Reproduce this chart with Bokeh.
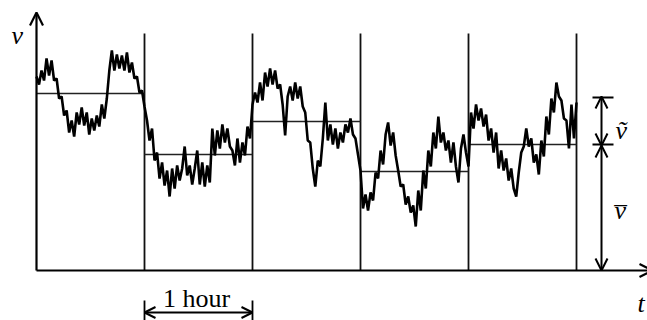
import numpy as np
from bokeh.plotting import figure
from bokeh.models import Arrow, OpenHead, Range1d
from bokeh.core.properties import value
from bokeh.embed import file_html
from bokeh.resources import INLINE

# ---- data (wind speed, arbitrary units) ----
hour1 = [194, 186, 200, 190, 212, 195, 210, 190, 192, 172, 174, 155, 160, 138, 150,
         134, 158, 146, 163, 145, 158, 136, 152, 140, 155, 144, 166, 152, 172, 200,
         220, 200, 216, 202, 215, 200, 218, 198, 208, 192, 194, 178, 180, 164]
hour2 = [150, 130, 142, 110, 118, 92, 108, 85, 100, 74, 102, 82, 105, 90, 102,
         124, 95, 105, 86, 102, 120, 86, 108, 84, 105, 88, 142, 115, 140, 122,
         146, 128, 142, 124, 120, 105, 132, 108, 128, 115, 144, 132, 166]
hour3 = [178, 168, 188, 170, 198, 184, 202, 186, 200, 182, 186, 166, 135, 174, 184,
         170, 188, 172, 184, 164, 158, 130, 128, 102, 84, 110, 104, 132, 168, 130,
         146, 126, 142, 122, 138, 128, 146, 138, 152, 136, 132, 116, 100]
hour4 = [62, 76, 60, 78, 70, 98, 92, 120, 106, 136, 148, 125, 138, 115, 100,
         84, 86, 66, 74, 58, 65, 44, 80, 60, 100, 82, 120, 104, 138, 122,
         154, 128, 138, 120, 130, 108, 128, 104, 88, 122, 136, 118, 104]
hour5 = [158, 142, 166, 150, 162, 144, 156, 130, 142, 118, 138, 102, 120, 100, 112,
         90, 102, 82, 74, 98, 118, 124, 142, 124, 132, 108, 116, 96, 130, 114,
         154, 136, 172, 158, 188, 174, 170, 152, 150, 122, 166, 132, 168]

hour_starts = [0, 1, 2, 3, 4]
hour_ends = [1, 2, 3, 4, 5]
hour_means = [177, 116, 149, 99, 126]
fluct_top = 173      # upper level of the fluctuation marker
ref_mean = 126       # mean of the last hour (v-bar)

speed = hour1 + hour2 + hour3 + hour4 + hour5
t = np.linspace(0, 5, len(speed))

# ---- layout ----
W, H = 647, 320
PX = 108.0   # pixels per hour
X0 = 36.0    # pixels from left edge to t = 0
Y0 = 50.0    # pixels from bottom edge to v = 0

p = figure(width=W, height=H, output_backend="svg", toolbar_location=None,
           x_range=Range1d(-X0 / PX, (W - X0) / PX), y_range=Range1d(-Y0, H - Y0),
           x_axis_type=None, y_axis_type=None, min_border=0)
p.grid.visible = False
p.outline_line_color = None

def tx(px):
    return (px - X0) / PX

def hy(py):
    return (H - Y0) - py

# hour boundaries
p.segment(x0=hour_ends, y0=0, x1=hour_ends, y1=hy(33), line_color="#111111", line_width=1.8)
# hourly means
p.segment(x0=hour_starts, y0=hour_means, x1=hour_ends, y1=hour_means,
          line_color="#222222", line_width=1.6)
# wind speed series
p.line(t, speed, line_color="black", line_width=2.6, line_join="bevel")

# axes as arrows
p.add_layout(Arrow(end=OpenHead(size=13, line_width=2.2), x_start=0, y_start=0,
                   x_end=0, y_end=hy(12), line_width=2.2))
p.add_layout(Arrow(end=OpenHead(size=13, line_width=2.2), x_start=0, y_start=0,
                   x_end=tx(652), y_end=0, line_width=2.2))

# right-hand annotation
xa = tx(601)
p.segment(x0=[tx(592)] * 2, y0=[fluct_top, ref_mean], x1=[tx(613)] * 2,
          y1=[fluct_top, ref_mean], line_color="black", line_width=1.8)
p.add_layout(Arrow(start=OpenHead(size=12, line_width=2), end=OpenHead(size=12, line_width=2),
                   x_start=xa, y_start=ref_mean - 1, x_end=xa, y_end=fluct_top + 1, line_width=2))
p.add_layout(Arrow(start=OpenHead(size=12, line_width=2), end=OpenHead(size=12, line_width=2),
                   x_start=xa, y_start=0, x_end=xa, y_end=ref_mean - 1, line_width=2))

# "1 hour" scale
p.segment(x0=[1, 2], y0=hy(300), x1=[1, 2], y1=hy(322), line_color="black", line_width=1.8)
p.add_layout(Arrow(start=OpenHead(size=11, line_width=2), end=OpenHead(size=11, line_width=2),
                   x_start=1, y_start=hy(312), x_end=2, y_end=hy(312), line_width=2))

serif = value("Liberation Serif")
p.text(x=[tx(196)], y=[hy(298)], text=["1 hour"], text_font=serif,
       text_font_size="26px", text_align="center", text_baseline="alphabetic",
       text_color="black")
p.text(x=[tx(11), tx(615), tx(614), tx(637)],
       y=[hy(35), hy(130), hy(210), hy(303)],
       text=["v", "\u1e7d", "v\u0305", "t"], text_font=serif, text_font_style="italic",
       text_font_size="26px", text_align="left", text_baseline="alphabetic",
       text_color="black")

open("out.html", "w").write(file_html(p, INLINE))
